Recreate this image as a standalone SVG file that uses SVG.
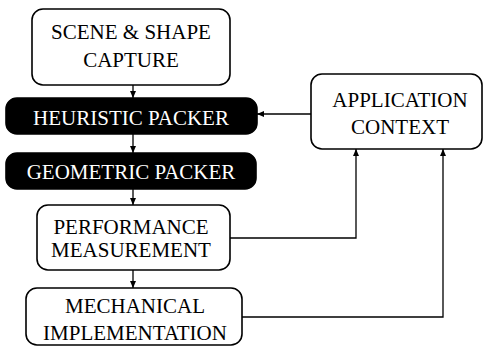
<svg xmlns="http://www.w3.org/2000/svg" width="483" height="347" viewBox="0 0 483 347">
<defs>
<marker id="ah" markerWidth="8" markerHeight="8" refX="7" refY="4" orient="auto" markerUnits="userSpaceOnUse">
<path d="M0,1 L7,4 L0,7 Z" fill="#000"/>
</marker>
<style>
.w{fill:#fff;stroke:#000;stroke-width:1.6}
.b{fill:#000;stroke:#000;stroke-width:1.6}
.t{font-size:21px;text-anchor:middle}
.tw{fill:#fff}
.tb{fill:#000}
.c{fill:none;stroke:#000;stroke-width:1.3}
</style>
</defs>
<rect width="483" height="347" fill="#fff"/>
<g font-family="'Liberation Serif', 'Times New Roman', serif">
<g id="scene">
<rect class="w" x="32" y="9" width="198" height="76" rx="11"/>
<text class="t tb" x="131" y="39">SCENE &amp; SHAPE</text>
<text class="t tb" x="131" y="67">CAPTURE</text>
</g>
<g id="heuristic">
<rect class="b" x="6" y="98" width="251" height="36" rx="11"/>
<text class="t tw" x="131" y="125">HEURISTIC PACKER</text>
</g>
<g id="geometric">
<rect class="b" x="6" y="153" width="250" height="36" rx="11"/>
<text class="t tw" x="131" y="179">GEOMETRIC PACKER</text>
</g>
<g id="performance">
<rect class="w" x="37" y="205" width="193" height="65" rx="11"/>
<text class="t tb" x="131" y="234">PERFORMANCE</text>
<text class="t tb" x="131" y="257">MEASUREMENT</text>
</g>
<g id="mechanical">
<rect class="w" x="26" y="288" width="216" height="57" rx="11"/>
<text class="t tb" x="135" y="313">MECHANICAL</text>
<text class="t tb" x="135" y="340">IMPLEMENTATION</text>
</g>
<g id="application">
<rect class="w" x="311" y="74" width="171" height="75" rx="11"/>
<text class="t tb" x="400" y="107">APPLICATION</text>
<text class="t tb" x="400" y="134">CONTEXT</text>
</g>
</g>
<g id="connectors">
<line class="c" x1="133" y1="85" x2="133" y2="98" marker-end="url(#ah)"/>
<line class="c" x1="133" y1="134" x2="133" y2="153" marker-end="url(#ah)"/>
<line class="c" x1="133" y1="189" x2="133" y2="205" marker-end="url(#ah)"/>
<line class="c" x1="133" y1="270" x2="133" y2="288" marker-end="url(#ah)"/>
<line class="c" x1="311" y1="114" x2="257" y2="114" marker-end="url(#ah)"/>
<polyline class="c" points="230,238 356,238 356,149" marker-end="url(#ah)"/>
<polyline class="c" points="242,317 443,317 443,149" marker-end="url(#ah)"/>
</g>
</svg>
